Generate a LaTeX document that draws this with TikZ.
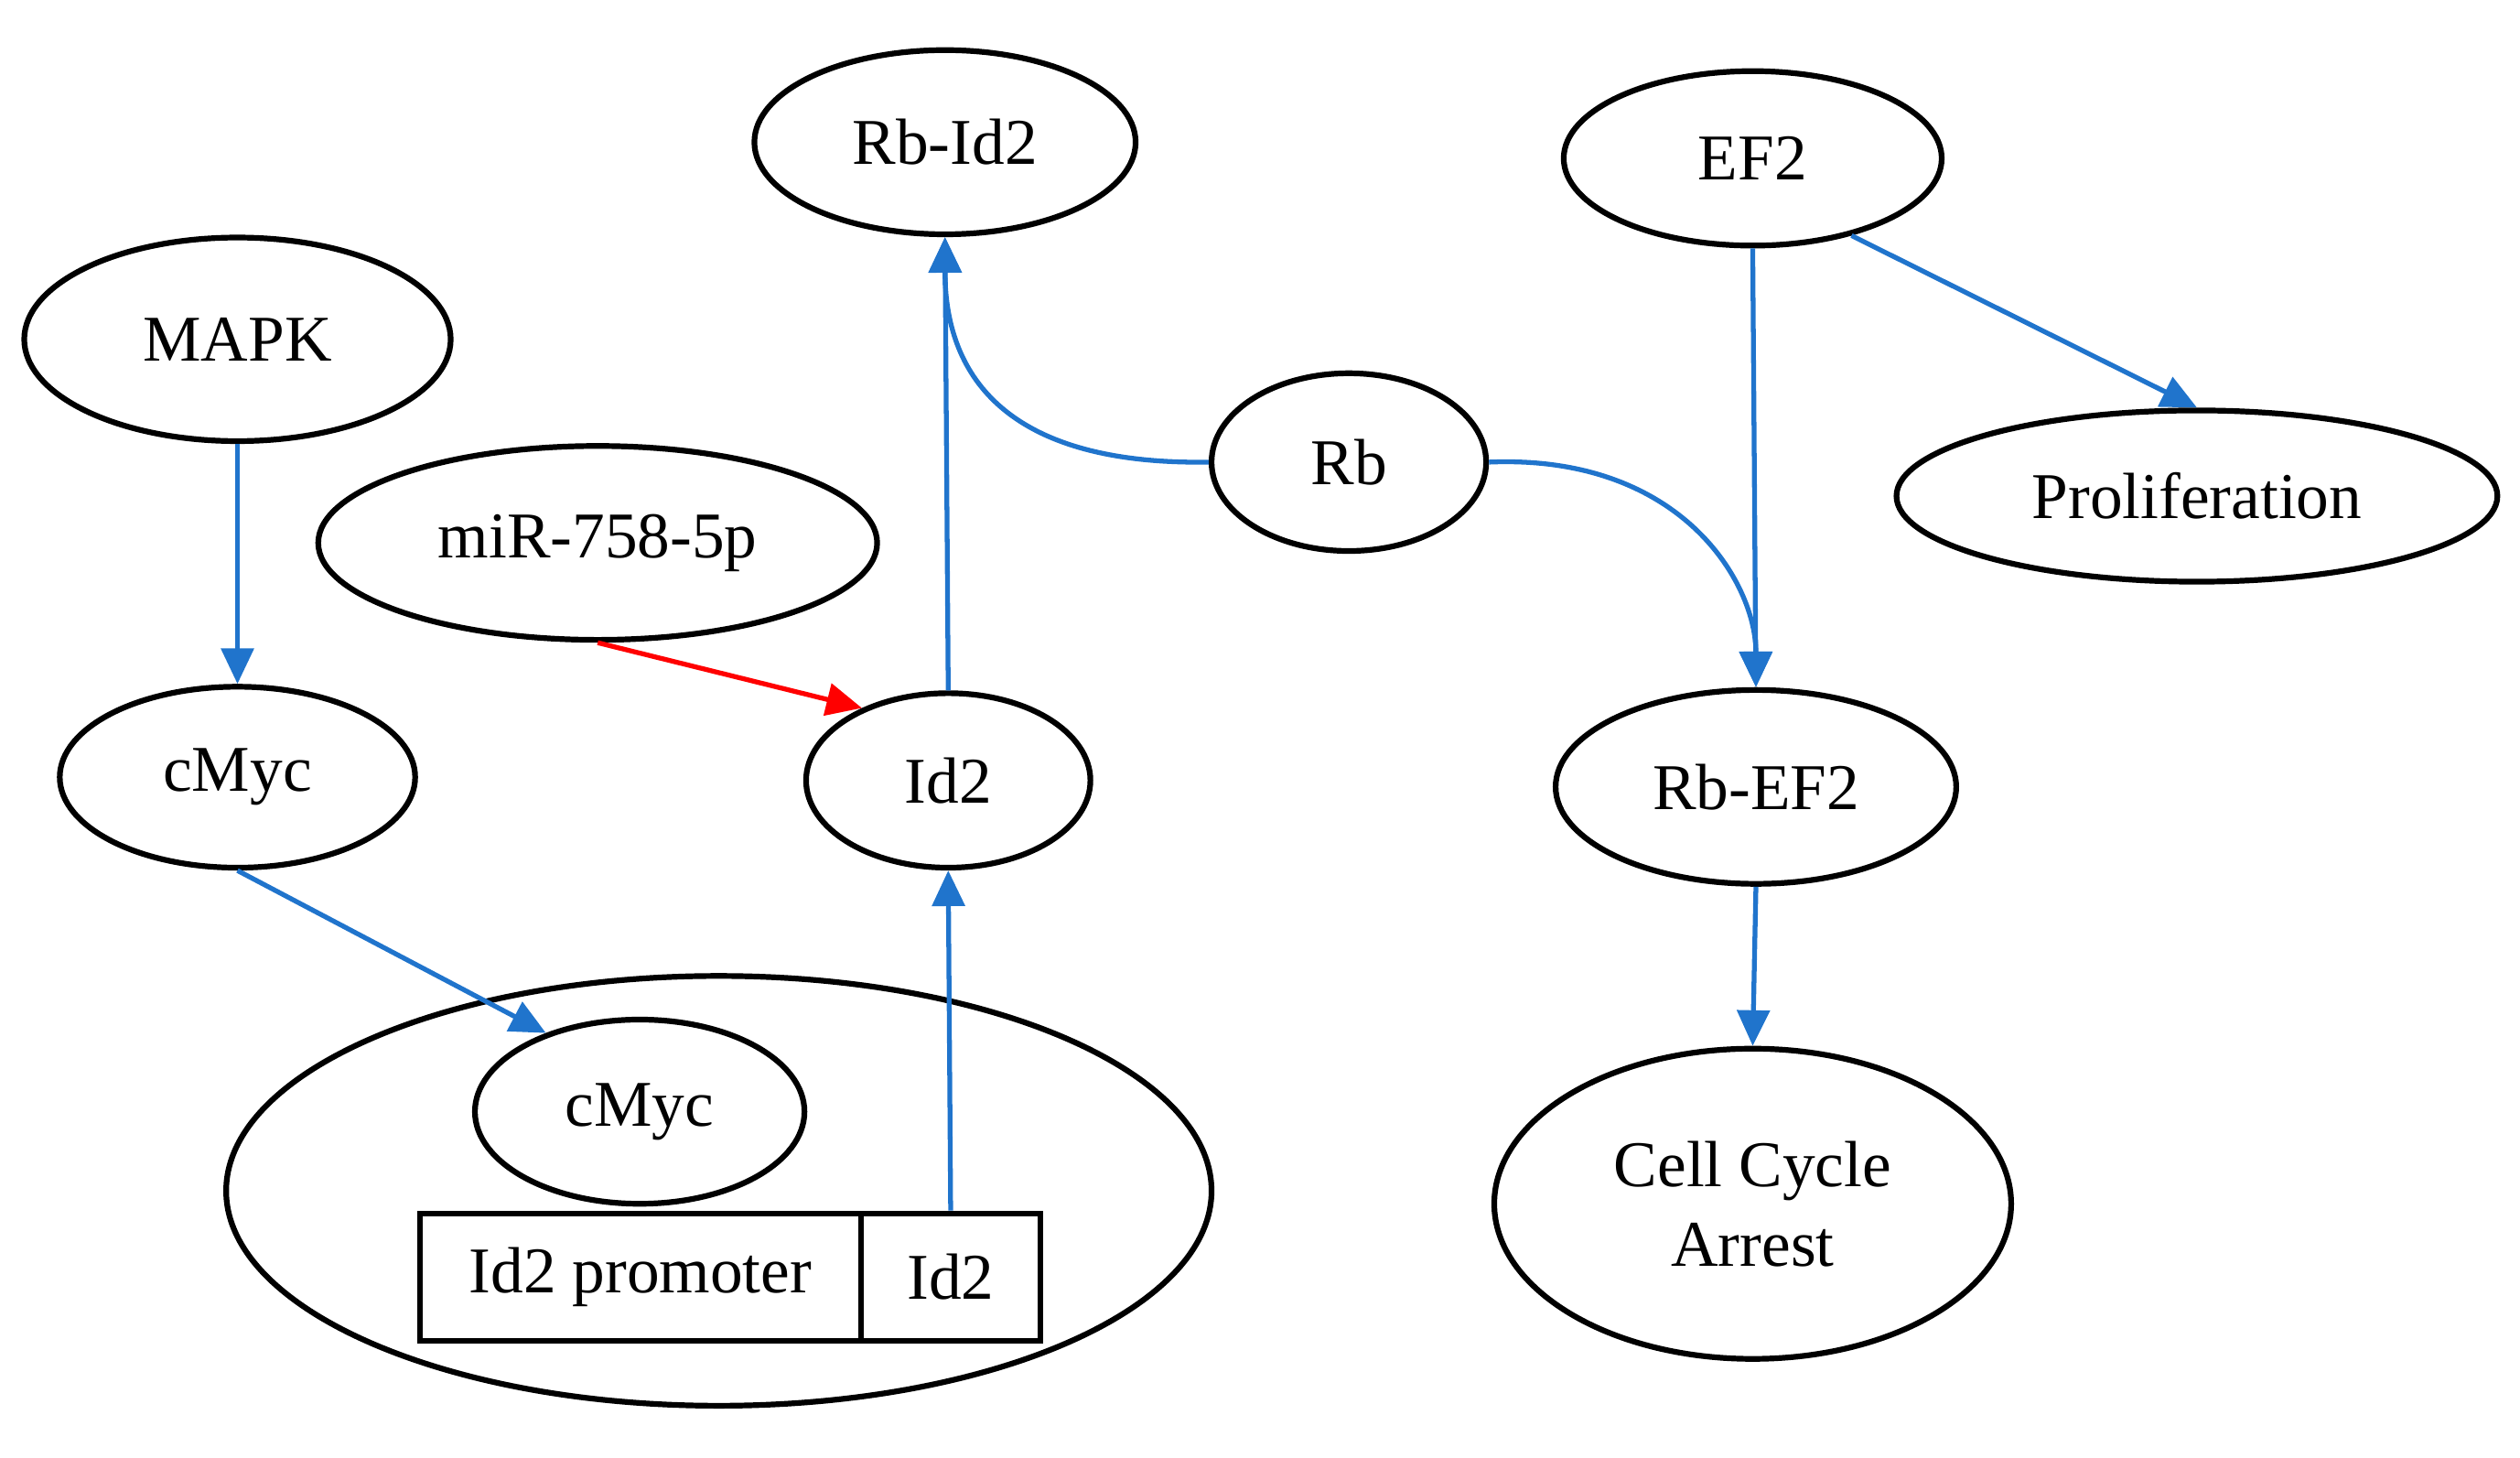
\documentclass[tikz,border=0pt]{standalone}
\usepackage{fontspec}
\setmainfont{Liberation Serif}
\usetikzlibrary{shapes.geometric,arrows.meta}
\definecolor{flow}{RGB}{32,116,204}
\tikzset{
  el/.style={draw=black,line width=1pt,ellipse,inner sep=0pt,font=\fontsize{11.5}{14}\selectfont,align=center},
  bx/.style={draw=black,line width=1pt,rectangle,inner sep=0pt,font=\fontsize{11.5}{14}\selectfont},
  act/.style={draw=flow,line width=0.85pt,-{Triangle[length=2.2mm,width=2mm]}},
  inh/.style={act,draw=red}
}
\begin{document}
\begin{tikzpicture}[x=0.1mm,y=-0.1mm]
\useasboundingbox (0,0) rectangle (1560,902);
\node[el,minimum width=26.4mm,minimum height=12.6mm] (mapk) at (147,210) {MAPK};
\node[el,minimum width=34.6mm,minimum height=12mm] (mir) at (370,336) {miR-758-5p};
\node[el,minimum width=22mm,minimum height=11.2mm] (cmyc) at (147,481) {cMyc};
\node[el,minimum width=23.6mm,minimum height=11.4mm] (rbid2) at (585,88) {Rb-Id2};
\node[el,minimum width=17.6mm,minimum height=10.8mm] (id2) at (587,483) {Id2};
\node[el,minimum width=17mm,minimum height=11mm] (rb) at (835,286) {Rb};
\node[el,minimum width=23.4mm,minimum height=10.8mm] (ef2) at (1085,98) {EF2};
\node[el,minimum width=37.2mm,minimum height=10.6mm] (prolif) at (1360,307) {Proliferation};
\node[el,minimum width=24.8mm,minimum height=12mm] (rbef2) at (1087,487) {Rb-EF2};
\node[el,minimum width=32mm,minimum height=19.2mm] (arrest) at (1085,745) {Cell Cycle\\Arrest};
\node[el,minimum width=61mm,minimum height=26.6mm] (nucleus) at (445,737) {};
\node[el,minimum width=20.4mm,minimum height=11.4mm] (icmyc) at (396,688) {cMyc};
\node[bx,minimum width=27.3mm,minimum height=7.9mm] (prom) at (396.5,790.5) {Id2 promoter};
\node[bx,minimum width=11.1mm,minimum height=7.9mm] (gene) at (588.5,790.5) {Id2};

\draw[act] (mapk.south) -- (cmyc.north);
\draw[act] (cmyc.south) -- (icmyc.140);
\draw[act] (gene.north) -- (id2.south);
\draw[inh] (mir.south) -- (id2.140);
\draw[act] (id2.north) -- (rbid2.south);
\draw[act] (rb.west) .. controls (620,288) and (585,230) .. (rbid2.south);
\draw[act] (rb.east) .. controls (1040,281) and (1087,360) .. (rbef2.north);
\draw[act] (ef2.south) -- (rbef2.north);
\draw[act] (ef2.-38) -- (prolif.north);
\draw[act] (rbef2.south) -- (arrest.north);
\end{tikzpicture}
\end{document}
